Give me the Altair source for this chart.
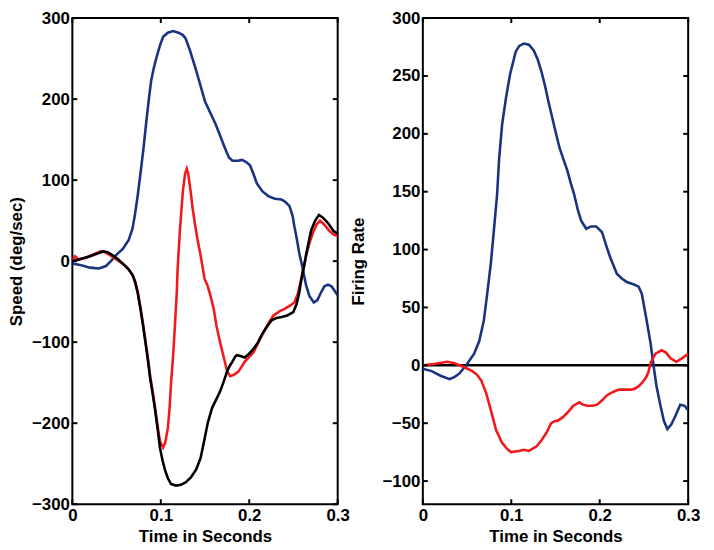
import altair as alt
import pandas as pd

# ---------------- data ----------------
x_ticks = [0, 0.1, 0.2, 0.3]
x_domain = [0, 0.3]
left_y_ticks = [-300, -200, -100, 0, 100, 200, 300]
left_y_domain = [-300, 300]
right_y_ticks = [-100, -50, 0, 50, 100, 150, 200, 250, 300]
right_y_domain = [-120, 300]
zero_line = [0]

left_blue_t = [0, 0.01, 0.02, 0.03, 0.038, 0.0435, 0.05, 0.057, 0.0636, 0.068, 0.071, 0.074,
               0.077, 0.0805, 0.0837, 0.0865, 0.089, 0.092, 0.095, 0.099, 0.1026, 0.108, 0.1138,
               0.12, 0.125, 0.128, 0.133, 0.139, 0.144, 0.15, 0.156, 0.162, 0.167, 0.172, 0.177,
               0.181, 0.187, 0.192, 0.197, 0.201, 0.205, 0.2086, 0.215, 0.222, 0.229, 0.2365,
               0.241, 0.2455, 0.249, 0.251, 0.254, 0.2565, 0.259, 0.2615, 0.2643, 0.268, 0.273,
               0.277, 0.281, 0.285, 0.289, 0.293, 0.298, 0.3]
left_blue_v = [-3, -5, -8, -9, -6, 0, 8, 15, 26, 40, 59, 82,
               108, 140, 173, 200, 222, 238, 251, 266, 277, 282, 284,
               282, 279, 275, 260, 239, 220, 197, 183, 169, 155, 141, 128,
               124, 124, 125, 122, 118, 107, 96, 86, 80, 77, 76,
               73, 68, 56, 43, 26, 10, -2, -15, -30, -43, -51,
               -48, -39, -31, -29, -31, -39, -42]

left_red_t = [0, 0.003, 0.007, 0.015, 0.025, 0.032, 0.037, 0.043, 0.05, 0.058, 0.0636, 0.068,
              0.071, 0.074, 0.077, 0.08, 0.0826, 0.0855, 0.088, 0.091, 0.0937, 0.0965, 0.099,
              0.1026, 0.105, 0.108, 0.11, 0.1115, 0.114, 0.116, 0.118, 0.119, 0.1216, 0.125,
              0.1275, 0.1294, 0.131, 0.134, 0.136, 0.139, 0.142, 0.145, 0.1495, 0.1528, 0.156,
              0.16, 0.163, 0.167, 0.171, 0.175, 0.1785, 0.183, 0.188, 0.195, 0.2, 0.205, 0.21,
              0.2165, 0.222, 0.2275, 0.234, 0.24, 0.246, 0.251, 0.255, 0.2588, 0.2615, 0.2643,
              0.268, 0.272, 0.276, 0.28, 0.285, 0.29, 0.295, 0.3]
left_red_v = [0, 6, 2, 4, 9, 12, 11, 7, 2, -4, -10, -17,
              -25, -38, -57, -78, -98, -120, -142, -162, -182, -204, -222,
              -230, -224, -206, -180, -152, -115, -79, -40, -10, 38, 87,
              108, 114, 108, 84, 65, 43, 24, 7, -22, -30, -42,
              -60, -80, -100, -118, -136, -142, -140, -136, -124, -118, -112, -101,
              -87, -76, -67, -62, -59, -55, -51, -40, -22, -8, 7,
              22, 35, 45, 50, 45, 38, 33, 31]

left_black_t = [0, 0.01, 0.02, 0.03, 0.035, 0.04, 0.046, 0.052, 0.058, 0.0636, 0.068, 0.071,
                0.074, 0.077, 0.08, 0.0826, 0.0855, 0.088, 0.091, 0.0937, 0.0965, 0.099, 0.102,
                0.1048, 0.108, 0.1115, 0.117, 0.1227, 0.128, 0.134, 0.14, 0.145, 0.149, 0.153,
                0.158, 0.163, 0.167, 0.171, 0.175, 0.178, 0.181, 0.184, 0.186, 0.19, 0.195, 0.2,
                0.205, 0.21, 0.214, 0.22, 0.2253, 0.231, 0.2365, 0.243, 0.2498, 0.2535, 0.2565,
                0.259, 0.262, 0.265, 0.268, 0.27, 0.2745, 0.2788, 0.283, 0.289, 0.2955, 0.3]
left_black_v = [0, 3, 6, 10, 12, 11, 7, 2, -4, -10, -17, -26,
                -40, -59, -80, -100, -123, -145, -165, -185, -208, -230, -246,
                -258, -268, -275, -277, -276, -273, -267, -257, -243, -222, -200,
                -181, -170, -161, -149, -136, -129, -124, -118, -116, -117, -119, -114,
                -108, -100, -91, -81, -73, -70, -69, -67, -63, -53, -39,
                -22, -6, 12, 28, 38, 50, 57, 54, 47, 37, 34]

right_blue_t = [0, 0.01, 0.02, 0.0302, 0.036, 0.0414, 0.049, 0.058, 0.0638, 0.069, 0.0728,
                0.077, 0.0806, 0.084, 0.0862, 0.0896, 0.094, 0.0985, 0.105, 0.109, 0.1142, 0.12,
                0.1254, 0.13, 0.134, 0.138, 0.142, 0.146, 0.15, 0.1545, 0.159, 0.1635, 0.167,
                0.171, 0.175, 0.179, 0.1847, 0.19, 0.196, 0.2026, 0.208, 0.212, 0.2195, 0.225,
                0.2306, 0.238, 0.244, 0.2475, 0.2497, 0.253, 0.2575, 0.261, 0.2642, 0.2687,
                0.2725, 0.2765, 0.281, 0.2854, 0.291, 0.296, 0.3]
right_blue_v = [-3, -5, -9, -12, -10, -7, 0, 10, 21, 39, 62,
                89, 119, 148, 178, 208, 231, 251, 271, 276, 278, 277,
                272, 264, 254, 242, 228, 215, 202, 188, 178, 168, 158,
                148, 135, 125, 118, 120, 120, 115, 102, 93, 79, 75,
                72, 70, 68, 62, 53, 39, 19, -1, -18, -35,
                -48, -55, -51, -44, -34, -35, -39]

right_red_t = [0, 0.01, 0.02, 0.027, 0.035, 0.045, 0.056, 0.061, 0.066, 0.0716, 0.077, 0.0828,
               0.0896, 0.095, 0.0996, 0.1086, 0.114, 0.1198, 0.1287, 0.134, 0.14, 0.145, 0.15,
               0.1522, 0.158, 0.1634, 0.17, 0.177, 0.181, 0.186, 0.192, 0.197, 0.203, 0.208,
               0.215, 0.2217, 0.229, 0.2362, 0.24, 0.244, 0.248, 0.252, 0.255, 0.2575, 0.263,
               0.27, 0.275, 0.28, 0.2866, 0.293, 0.3]
right_red_v = [0, 1, 2, 3, 2, -1, -5, -8, -13, -24, -39, -56,
               -67, -72, -75, -74, -73, -74, -70, -65, -58, -50, -48,
               -48, -45, -41, -35, -32, -34, -35, -35, -34, -30, -26,
               -23, -21, -21, -21, -20, -18, -15, -11, -6, 2, 10,
               13, 11, 6, 3, 6, 10]

# ---------------- style ----------------
FONT = "Liberation Sans"
BLUE = "#1a3380"
RED = "#f2191c"
BLACK = "#000000"
W, H = 268, 491
TICK_LEN = 5
LW = 2.6

xs = alt.Scale(domain=x_domain, nice=False, zero=False)


def bottom_axis(title):
    return alt.Axis(orient="bottom", values=x_ticks, format="~r", title=title,
                    ticks=False, domain=False, grid=False,
                    labelFlush=False, labelOverlap=False, labelPadding=3,
                    titleX=W / 2, titleY=33, titleBaseline="middle", titleAlign="center",
                    titleAngle=0)


def left_axis(values, title, tx):
    return alt.Axis(orient="left", values=values, format="d", title=title,
                    ticks=False, domain=False, grid=False,
                    labelFlush=False, labelOverlap=False, labelPadding=3,
                    titleX=tx, titleY=H / 2, titleBaseline="middle", titleAlign="center",
                    titleAngle=270)


def make_panel(series, yvalues, ydomain, ytitle, ytitle_x, background=None):
    ys = alt.Scale(domain=ydomain, nice=False, zero=False)
    xax = bottom_axis("Time in Seconds")
    yax = left_axis(yvalues, ytitle, ytitle_x)
    X = lambda: alt.X("t:Q", scale=xs, axis=xax)
    Y = lambda: alt.Y("v:Q", scale=ys, axis=yax)

    layers = []
    if background is not None:
        layers.append(alt.Chart(pd.DataFrame({"v": background})).mark_rule(
            color=BLACK, strokeWidth=2.5).encode(y=Y()))
    for t, v, color in series:
        layers.append(alt.Chart(pd.DataFrame({"t": t, "v": v})).mark_line(
            color=color, strokeWidth=LW, clip=True).encode(x=X(), y=Y()))

    # inward-pointing ticks on all four sides, positioned by the scales
    xdf = pd.DataFrame({"t": x_ticks})
    ydf = pd.DataFrame({"v": yvalues})
    rule = dict(color=BLACK, strokeWidth=2)
    layers += [
        alt.Chart(xdf).mark_rule(**rule).encode(
            x=X(), y=alt.value(H - TICK_LEN), y2=alt.value(H)),
        alt.Chart(xdf).mark_rule(**rule).encode(
            x=X(), y=alt.value(0), y2=alt.value(TICK_LEN)),
        alt.Chart(ydf).mark_rule(**rule).encode(
            y=Y(), x=alt.value(0), x2=alt.value(TICK_LEN)),
        alt.Chart(ydf).mark_rule(**rule).encode(
            y=Y(), x=alt.value(W - TICK_LEN), x2=alt.value(W)),
    ]
    return alt.layer(*layers).properties(width=W, height=H)


left = make_panel(
    [(left_blue_t, left_blue_v, BLUE),
     (left_red_t, left_red_v, RED),
     (left_black_t, left_black_v, BLACK)],
    left_y_ticks, left_y_domain, "Speed (deg/sec)", -56)

right = make_panel(
    [(right_blue_t, right_blue_v, BLUE),
     (right_red_t, right_red_v, RED)],
    right_y_ticks, right_y_domain, "Firing Rate", -65, background=zero_line)

# fixed placement: plot areas start at (65, 5) inside the 8px page margin
chart = alt.hconcat(left, right, spacing=86, bounds="flush").properties(
    autosize=alt.AutoSizeParams(type="none"),
    padding={"left": 65, "top": 5, "right": 640, "bottom": 540},
).configure_view(
    stroke="black", strokeWidth=2
).configure_axis(
    labelFont=FONT, labelFontSize=17, labelFontWeight="bold", labelColor="black",
    titleFont=FONT, titleFontSize=17, titleFontWeight="bold", titleColor="black"
)

chart.save("out.html", embed_options={"renderer": "svg", "actions": False})
